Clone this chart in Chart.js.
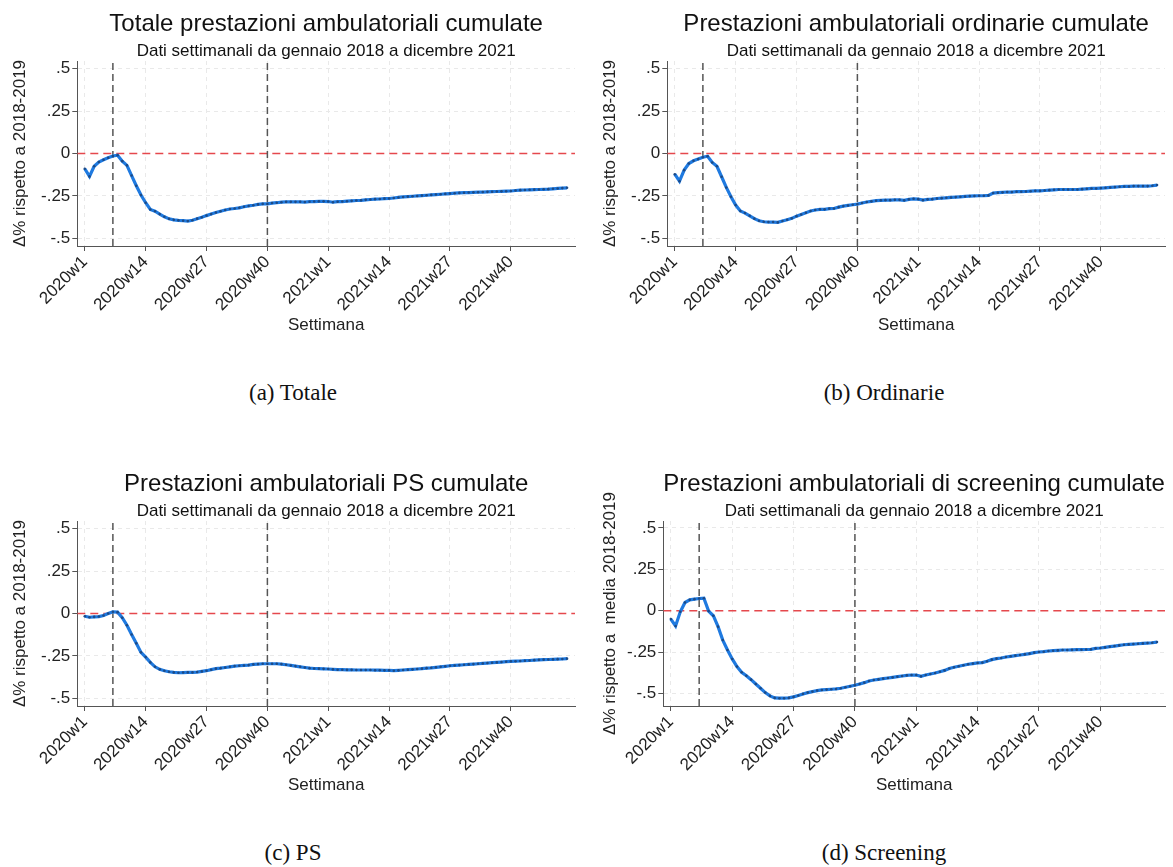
<!DOCTYPE html>
<html>
<head>
<meta charset="utf-8">
<script src="https://cdn.jsdelivr.net/npm/chart.js@4/dist/chart.umd.min.js"></script>
<style>
  body { margin: 0; background: #fff; width: 1173px; height: 867px; position: relative; overflow: hidden; }
  canvas { position: absolute; }
  .caption { position: absolute; width: 300px; text-align: center; font-family: 'Liberation Serif', serif; font-size: 23px; line-height: 26px; color: #111; }
</style>
</head>
<body>
<canvas id="chartA" width="590" height="340" style="left:0px;top:0px"></canvas>
<canvas id="chartB" width="583" height="340" style="left:590px;top:0px"></canvas>
<canvas id="chartC" width="590" height="340" style="left:0px;top:460px"></canvas>
<canvas id="chartD" width="583" height="340" style="left:590px;top:460px"></canvas>

<div class="caption" style="left:143px;top:380px">(a) Totale</div>
<div class="caption" style="left:734px;top:380px">(b) Ordinarie</div>
<div class="caption" style="left:143px;top:840px">(c) PS</div>
<div class="caption" style="left:734px;top:840px">(d) Screening</div>

<script>
// weekly index: 0 = 2020w1 ... 103 = 2021w52 (Stata weeks, 52 per year)
const xTickWeeks = [0, 13, 26, 39, 52, 65, 78, 91];
const xTickLabels = ['2020w1', '2020w14', '2020w27', '2020w40', '2021w1', '2021w14', '2021w27', '2021w40'];
const yTickValues = [-0.5, -0.25, 0, 0.25, 0.5];
const yTickLabels = ['-.5', '-.25', '0', '.25', '.5'];
const refWeeks = [6, 39];   // dashed vertical lines

const totale = [
  -0.090, -0.135, -0.075, -0.050, -0.037, -0.025, -0.015, -0.010, -0.045, -0.070,
  -0.130, -0.190, -0.245, -0.290, -0.330, -0.340, -0.357, -0.373, -0.385, -0.391,
  -0.394, -0.396, -0.398, -0.393, -0.384, -0.376, -0.366, -0.357, -0.348, -0.340,
  -0.333, -0.327, -0.324, -0.320, -0.314, -0.309, -0.305, -0.300, -0.297, -0.297,
  -0.292, -0.290, -0.287, -0.285, -0.285, -0.285, -0.285, -0.286, -0.284, -0.283,
  -0.282, -0.282, -0.283, -0.287, -0.284, -0.283, -0.281, -0.279, -0.277, -0.276,
  -0.273, -0.271, -0.269, -0.268, -0.266, -0.265, -0.262, -0.259, -0.256, -0.254,
  -0.252, -0.250, -0.248, -0.246, -0.244, -0.242, -0.240, -0.238, -0.236, -0.234,
  -0.232, -0.231, -0.230, -0.229, -0.228, -0.227, -0.226, -0.225, -0.224, -0.223,
  -0.222, -0.221, -0.218, -0.216, -0.215, -0.214, -0.213, -0.212, -0.211, -0.210,
  -0.208, -0.206, -0.204, -0.202
];

const ordinarie = [
  -0.122, -0.163, -0.098, -0.059, -0.043, -0.033, -0.022, -0.016, -0.053, -0.075,
  -0.137, -0.200, -0.255, -0.304, -0.339, -0.351, -0.367, -0.384, -0.396, -0.402,
  -0.404, -0.404, -0.406, -0.398, -0.390, -0.382, -0.369, -0.359, -0.349, -0.339,
  -0.333, -0.329, -0.329, -0.325, -0.324, -0.316, -0.310, -0.306, -0.302, -0.298,
  -0.292, -0.286, -0.282, -0.278, -0.276, -0.275, -0.275, -0.273, -0.273, -0.276,
  -0.270, -0.267, -0.269, -0.275, -0.270, -0.269, -0.265, -0.263, -0.261, -0.259,
  -0.257, -0.255, -0.253, -0.251, -0.250, -0.249, -0.249, -0.247, -0.233, -0.231,
  -0.229, -0.227, -0.227, -0.225, -0.225, -0.224, -0.222, -0.220, -0.220, -0.218,
  -0.216, -0.214, -0.212, -0.212, -0.212, -0.212, -0.212, -0.210, -0.208, -0.206,
  -0.206, -0.204, -0.202, -0.200, -0.198, -0.196, -0.194, -0.194, -0.192, -0.192,
  -0.192, -0.192, -0.190, -0.186
];

const ps = [
  -0.016, -0.022, -0.020, -0.018, -0.012, 0.000, 0.010, 0.008, -0.025, -0.069,
  -0.124, -0.176, -0.229, -0.257, -0.288, -0.314, -0.329, -0.337, -0.343, -0.347,
  -0.349, -0.348, -0.347, -0.347, -0.345, -0.341, -0.337, -0.331, -0.325, -0.322,
  -0.318, -0.314, -0.310, -0.308, -0.306, -0.304, -0.300, -0.298, -0.296, -0.296,
  -0.296, -0.296, -0.298, -0.302, -0.306, -0.310, -0.314, -0.318, -0.322, -0.324,
  -0.325, -0.326, -0.327, -0.329, -0.331, -0.331, -0.332, -0.332, -0.333, -0.333,
  -0.333, -0.333, -0.334, -0.334, -0.335, -0.335, -0.337, -0.335, -0.333, -0.331,
  -0.329, -0.327, -0.325, -0.322, -0.320, -0.317, -0.314, -0.311, -0.308, -0.306,
  -0.304, -0.302, -0.300, -0.298, -0.296, -0.294, -0.292, -0.290, -0.288, -0.286,
  -0.284, -0.282, -0.281, -0.280, -0.278, -0.277, -0.275, -0.273, -0.272, -0.271,
  -0.270, -0.269, -0.268, -0.266
];

const screening = [
  -0.050, -0.092, -0.006, 0.050, 0.066, 0.070, 0.074, 0.076, -0.002, -0.030,
  -0.096, -0.177, -0.237, -0.291, -0.337, -0.371, -0.392, -0.416, -0.442, -0.468,
  -0.494, -0.514, -0.526, -0.528, -0.528, -0.526, -0.520, -0.512, -0.502, -0.494,
  -0.488, -0.482, -0.478, -0.476, -0.474, -0.472, -0.468, -0.462, -0.456, -0.450,
  -0.442, -0.434, -0.424, -0.418, -0.414, -0.410, -0.406, -0.402, -0.398, -0.394,
  -0.390, -0.388, -0.388, -0.396, -0.388, -0.382, -0.376, -0.368, -0.360, -0.349,
  -0.341, -0.335, -0.329, -0.323, -0.319, -0.315, -0.313, -0.305, -0.295, -0.289,
  -0.285, -0.279, -0.275, -0.271, -0.267, -0.263, -0.259, -0.253, -0.249, -0.247,
  -0.243, -0.241, -0.239, -0.237, -0.237, -0.236, -0.235, -0.235, -0.234, -0.233,
  -0.227, -0.225, -0.221, -0.217, -0.213, -0.209, -0.205, -0.203, -0.201, -0.199,
  -0.197, -0.195, -0.193, -0.189
];

const subtitleText = 'Dati settimanali da gennaio 2018 a dicembre 2021';

Chart.defaults.font.family = "'Liberation Sans', Arial, sans-serif";
Chart.defaults.color = '#222';

function makePanel(id, title, yTitle, values, yMin, yMax, yWidth, padRight) {
  const xMin = -1.6, xMax = 104.7;
  const line = values.map((v, i) => ({x: i, y: v}));

  const datasets = [{
    data: line,
    borderColor: '#1f7ae0',
    borderWidth: 3.2,
    pointRadius: 1.3,
    pointBackgroundColor: '#1c4a86',
    pointBorderWidth: 0,
    tension: 0,
    order: 0
  }, {
    // zero reference
    data: [{x: xMin, y: 0}, {x: xMax, y: 0}],
    borderColor: '#e5484d',
    borderWidth: 1.5,
    borderDash: [8, 5],
    pointRadius: 0,
    order: 2
  }];
  for (let w of refWeeks) {
    datasets.push({
      data: [{x: w, y: yMin}, {x: w, y: yMax}],
      borderColor: '#555',
      borderWidth: 1.5,
      borderDash: [7, 4],
      pointRadius: 0,
      order: 1
    });
  }

  new Chart(document.getElementById(id), {
    type: 'line',
    data: {datasets: datasets},
    options: {
      responsive: false,
      animation: false,
      devicePixelRatio: 1,
      layout: {padding: {left: 0, right: padRight, top: 0, bottom: 0}},
      plugins: {
        legend: {display: false},
        tooltip: {enabled: false},
        title: {
          display: true, text: title, fullSize: false, color: '#111',
          font: {size: 24, weight: 'normal', lineHeight: 1},
          padding: {top: 12, bottom: 0}
        },
        subtitle: {
          display: true, text: subtitleText, fullSize: false, color: '#111',
          font: {size: 17, weight: 'normal', lineHeight: 1},
          padding: {top: 7, bottom: 1}
        }
      },
      scales: {
        x: {
          type: 'linear', min: xMin, max: xMax,
          afterBuildTicks: (s) => { s.ticks = xTickWeeks.map(v => ({value: v})); },
          afterFit: (s) => { s.height = 94; },
          ticks: {
            autoSkip: false, maxRotation: 45, minRotation: 45, padding: 1,
            font: {size: 17}, color: '#222',
            callback: (v) => xTickLabels[xTickWeeks.indexOf(v)]
          },
          grid: {color: '#e9e9e9', tickColor: '#555', tickLength: 5, lineWidth: 1},
          border: {color: '#555', width: 1, dash: [4, 4]},
          title: {
            display: true, text: 'Settimana', color: '#222',
            font: {size: 17, lineHeight: 1}, padding: {top: 0, bottom: 6.5}
          }
        },
        y: {
          min: yMin, max: yMax,
          afterBuildTicks: (s) => { s.ticks = yTickValues.map(v => ({value: v})); },
          afterFit: (s) => { s.width = yWidth; },
          ticks: {
            font: {size: 17}, color: '#222', padding: 2,
            callback: (v) => yTickLabels[yTickValues.indexOf(v)]
          },
          grid: {
            color: (c) => (c.tick && c.tick.value === 0) ? 'rgba(0,0,0,0)' : '#e9e9e9',
            tickColor: '#555', tickLength: 5, lineWidth: 1
          },
          border: {color: '#555', width: 1, dash: [4, 4]},
          title: {
            display: true, text: yTitle, color: '#222',
            font: {size: 17, lineHeight: 1}, padding: {top: 11.5, bottom: 0}
          }
        }
      }
    }
  });
}

makePanel('chartA', 'Totale prestazioni ambulatoriali cumulate', 'Δ% rispetto a 2018-2019', totale, -0.545, 0.545, 77.3, 15);
makePanel('chartB', 'Prestazioni ambulatoriali ordinarie cumulate', 'Δ% rispetto a 2018-2019', ordinarie, -0.545, 0.545, 77.3, 8);
makePanel('chartC', 'Prestazioni ambulatoriali PS cumulate', 'Δ% rispetto a 2018-2019', ps, -0.545, 0.545, 77.3, 15);
makePanel('chartD', 'Prestazioni ambulatoriali di screening cumulate', 'Δ% rispetto a  media 2018-2019', screening, -0.575, 0.542, 73.3, 8);
</script>
</body>
</html>
